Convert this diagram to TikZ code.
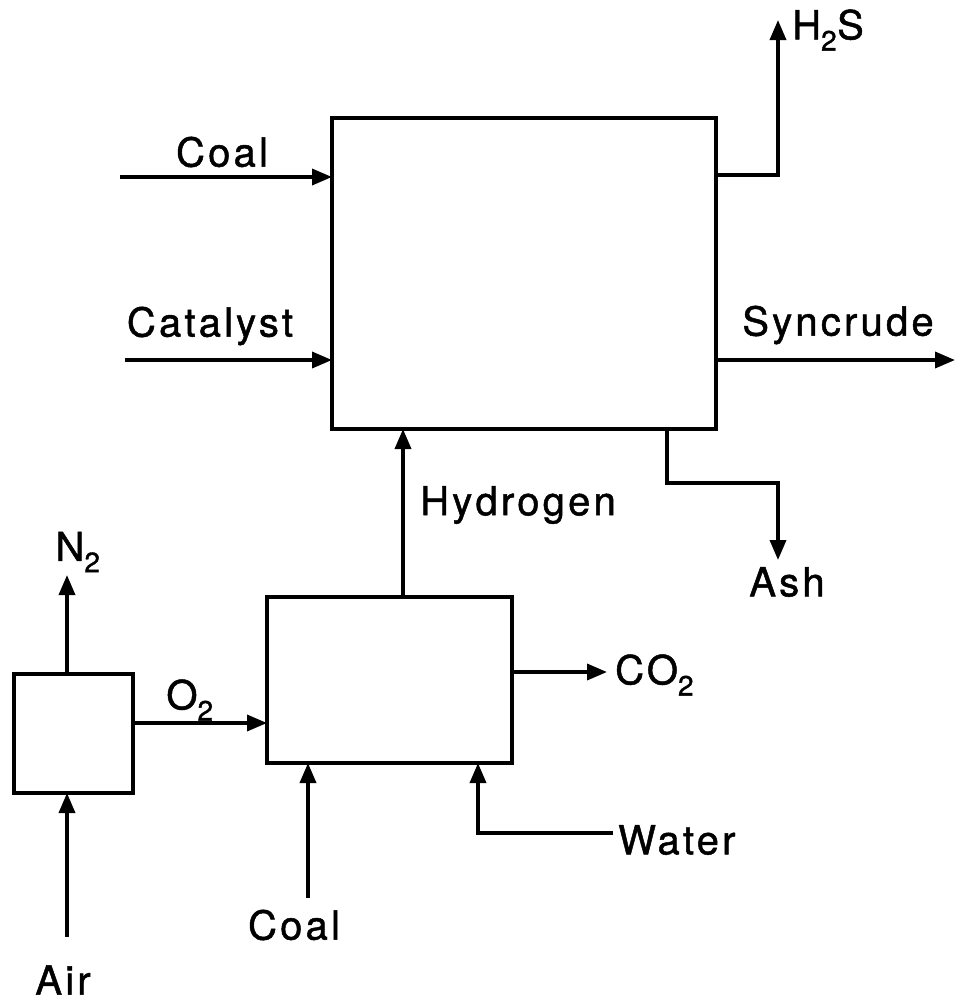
\documentclass[tikz,border=0pt]{standalone}
\usepackage{fontspec}
\setmainfont{TeX Gyre Heros}[LetterSpace=8,FakeBold=1.2]
\usetikzlibrary{arrows.meta}
\begin{document}
\begin{tikzpicture}[x=1pt,y=-1pt,
  box/.style={draw, line width=4pt, inner sep=0pt, outer sep=0pt},
  arr/.style={line width=3.5pt, -{Triangle[length=20pt,width=16pt]}},
  lab/.style={inner sep=0pt, font=\fontsize{40}{44}\selectfont}]
\useasboundingbox (0,0) rectangle (956,1002);
% boxes
\node[box, minimum width=384pt, minimum height=311pt] (R) at (524,273.5) {};
\node[box, minimum width=245pt, minimum height=166pt] (G) at (389.5,680) {};
\node[box, minimum width=119pt, minimum height=119pt] (A) at (73.5,733.5) {};
% feeds to reactor
\coordinate (coalin) at (120,177);
\coordinate (catin) at (125,360);
\draw[arr] (coalin) -- (coalin -| R.west);
\draw[arr] (catin) -- (catin -| R.west);
\node[lab] (tcoal) at (222,152) {Coal};
\node[lab] (tcat) at (210,326) {Catalyst};
% H2S
\coordinate (h2sturn) at (778,175);
\coordinate (h2send) at (778,20);
\draw[arr] (h2sturn -| R.east) -- (h2sturn) -- (h2send);
\node[lab, anchor=west] (th2s) at (792,30) {H\textsubscript{2}S};
% Syncrude
\coordinate (synend) at (955,360);
\draw[arr] (synend -| R.east) -- (synend);
\node[lab] (tsyn) at (838,325) {Syncrude};
% Ash
\coordinate (ashtop) at (667,0);
\coordinate (ashturn) at (667,483);
\coordinate (ashend) at (778,560);
\draw[arr] (ashtop |- R.south) -- (ashturn) -| (ashend);
\node[lab] (tash) at (787,582) {Ash};
% Hydrogen
\coordinate (hx) at (403,0);
\draw[arr] (hx |- G.north) -- (hx |- R.south);
\node[lab, anchor=west] (thyd) at (420,505) {Hydrogen};
% N2
\coordinate (nx) at (67,0);
\coordinate (n2end) at (67,575);
\draw[arr] (nx |- A.north) -- (n2end);
\node[lab] (tn2) at (78,552) {N\textsubscript{2}};
% Air
\coordinate (airin) at (67,937);
\draw[arr] (airin) -- (airin |- A.south);
\node[lab] (tair) at (63,980) {Air};
% O2
\coordinate (oy) at (0,723);
\draw[arr] (oy -| A.east) -- (oy -| G.west);
\node[lab] (to2) at (190,700) {O\textsubscript{2}};
% CO2
\coordinate (co2end) at (607,672);
\draw[arr] (co2end -| G.east) -- (co2end);
\node[lab, anchor=west] (tco2) at (615,675) {CO\textsubscript{2}};
% Coal to gasifier
\coordinate (gcoal) at (308,898);
\draw[arr] (gcoal) -- (gcoal |- G.south);
\node[lab] (tgcoal) at (294,925) {Coal};
% Water
\coordinate (wstart) at (613,833);
\coordinate (wturn) at (478,833);
\draw[arr] (wstart) -- (wturn) -- (wturn |- G.south);
\node[lab, anchor=west] (twater) at (618,840) {Water};
\end{tikzpicture}
\end{document}
